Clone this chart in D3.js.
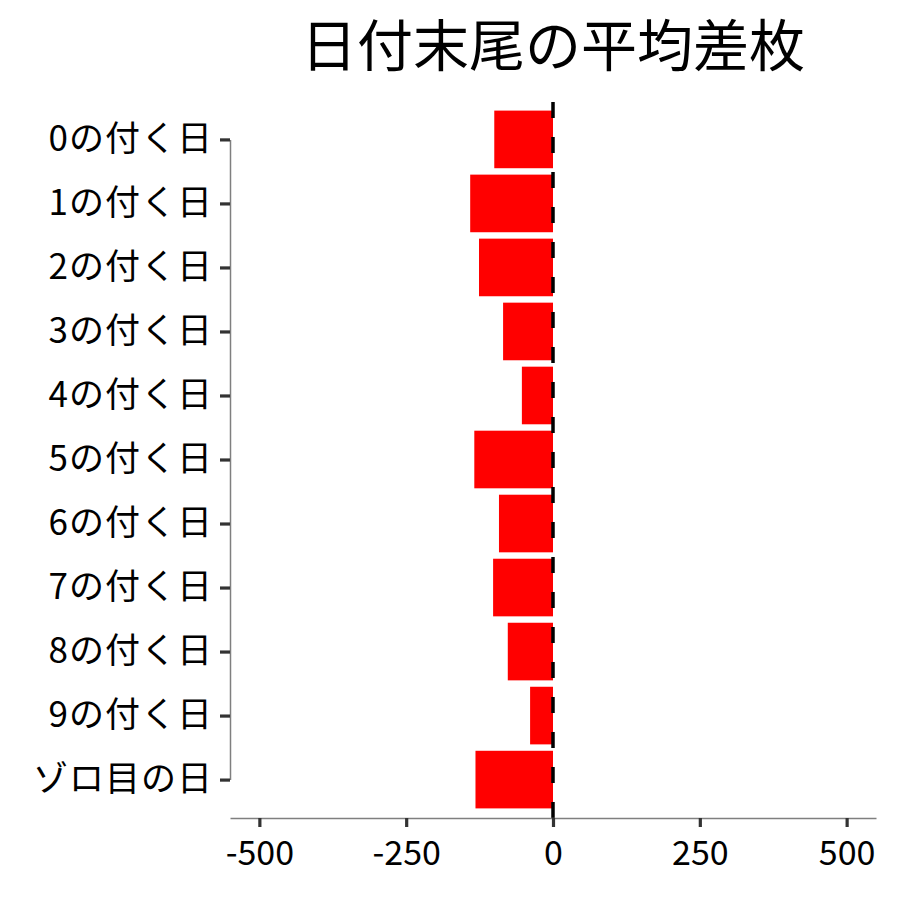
<!DOCTYPE html>
<html>
<head>
<meta charset="utf-8">
<script src="https://cdn.jsdelivr.net/npm/d3@7"></script>
<style>
  body { margin: 0; background: #fff; }
  svg { font-family: "Noto Sans CJK JP", "Noto Sans", sans-serif; }
</style>
</head>
<body>
<div id="chart"></div>
<script>
// chart data
const categories = ["0の付く日", "1の付く日", "2の付く日", "3の付く日", "4の付く日",
  "5の付く日", "6の付く日", "7の付く日", "8の付く日", "9の付く日", "ゾロ目の日"];
const avgDiff = [-100, -141, -126, -85, -53, -134, -92, -102, -77, -39, -132];
const xTicks = [-500, -250, 0, 250, 500];
const title = "日付末尾の平均差枚";

let width = 900;
let height = 900;
let margin = {top: 101, right: 24, bottom: 82, left: 230};
let fontFam = '"Noto Sans CJK JP", "Noto Sans", sans-serif';

let svg = d3.select("#chart").append("svg")
  .attr("width", width)
  .attr("height", height);

let x = d3.scaleLinear()
  .domain([-550, 550])
  .range([margin.left, width - margin.right]);

// ggplot-like discrete expansion: 0.6 units each side
let step = (height - margin.bottom - margin.top) / (categories.length - 1 + 1.2);
let y = d3.scalePoint()
  .domain(categories)
  .range([margin.top + 0.6 * step, height - margin.bottom - 0.6 * step]);
let barH = step * 0.9;

// bars
svg.append("g").selectAll("rect")
  .data(categories)
  .enter()
  .append("rect")
  .attr("x", (d, i) => x(Math.min(0, avgDiff[i])))
  .attr("y", d => y(d) - barH / 2)
  .attr("width", (d, i) => Math.abs(x(avgDiff[i]) - x(0)))
  .attr("height", barH)
  .attr("fill", "#ff0000");

// dashed zero line
svg.append("line")
  .attr("x1", x(0)).attr("x2", x(0))
  .attr("y1", height - margin.bottom).attr("y2", margin.top)
  .attr("stroke", "#000")
  .attr("stroke-width", 3.5)
  .attr("stroke-dasharray", "16 19");

// x axis
let xAxis = svg.append("g")
  .attr("transform", `translate(0,${height - margin.bottom})`)
  .call(d3.axisBottom(x).tickValues(xTicks).tickFormat(d => String(d))
    .tickSize(9).tickSizeOuter(0).tickPadding(6))
  .attr("font-family", fontFam);
xAxis.select(".domain").attr("stroke", "#7f7f7f").attr("stroke-width", 1.5);
xAxis.selectAll(".tick line").attr("stroke", "#333").attr("stroke-width", 3.2);
xAxis.selectAll(".tick text")
  .attr("fill", "#000")
  .style("font-size", "34px")
  .attr("dy", "0.95em");

// y axis
let yAxis = svg.append("g")
  .attr("transform", `translate(${margin.left},0)`)
  .call(d3.axisLeft(y).tickSize(10).tickSizeOuter(0).tickPadding(7))
  .attr("font-family", fontFam);
yAxis.select(".domain").attr("stroke", "#7f7f7f").attr("stroke-width", 1.5);
yAxis.selectAll(".tick line").attr("stroke", "#333").attr("stroke-width", 3.2);
yAxis.selectAll(".tick text")
  .attr("fill", "#000")
  .style("font-size", "35px")
  .style("letter-spacing", "1px");

// title
svg.append("text")
  .attr("x", (x.range()[0] + x.range()[1]) / 2)
  .attr("y", 66)
  .attr("text-anchor", "middle")
  .style("font-size", "56px")
  .text(title);
</script>
</body>
</html>
